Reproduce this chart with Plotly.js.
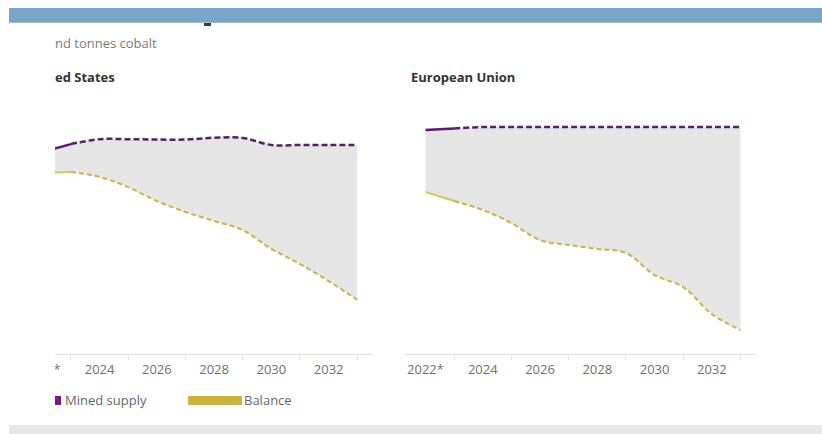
<!DOCTYPE html>
<html><head><meta charset="utf-8">
<script src="https://cdn.plot.ly/plotly-3.0.1.min.js"></script>
<style>html,body{margin:0;padding:0;background:#fff;} #chart{width:822px;height:434px;}</style>
</head><body><div id="chart"></div>
<script>
// ---- data (thousand tonnes cobalt) ----
const years = [2022, 2023, 2024, 2025, 2026, 2027, 2028, 2029, 2030, 2031, 2032, 2033];
const tickYears = [2022, 2024, 2026, 2028, 2030, 2032];
const tickLabels = ['2022*', '2024', '2026', '2028', '2030', '2032'];
const usMined   = [1.13, 1.57, 1.84, 1.84, 1.82, 1.82, 1.92, 1.91, 1.52, 1.52, 1.52, 1.52];
const usBalance = [-0.02, 0.03, -0.24, -0.80, -1.57, -2.17, -2.67, -3.17, -4.21, -5.04, -5.98, -7.02];
const euMined   = [2.35, 2.43, 2.51, 2.51, 2.51, 2.51, 2.51, 2.51, 2.51, 2.51, 2.51, 2.51];
const euBalance = [-1.07, -1.57, -2.06, -2.78, -3.72, -3.99, -4.21, -4.43, -5.65, -6.31, -7.80, -8.68];
const histCount = 2; // 2022-2023 are historical (solid), later years projected (dashed)
const seriesNames = ['Mined supply', 'Balance'];
const panelTitles = ['ed States', 'European Union'];
const unitText = 'nd tonnes cobalt';

const W = 822, H = 434;
const X = p => p / W, Y = p => (H - p) / H;

const PURPLE_H = '#5a1a72', PURPLE_P = '#4e2461';
const GOLD_H = '#d7c55e', GOLD_P = '#c8b447';

function panel(mined, balance, xa, ya) {
  const hx = years.slice(0, histCount), px = years.slice(histCount - 1);
  const base = {xaxis: xa, yaxis: ya, mode: 'lines', hoverinfo: 'skip', showlegend: false};
  return [
    Object.assign({}, base, {x: years, y: mined, line: {width: 0, shape: 'spline'}}),
    Object.assign({}, base, {x: years, y: balance, line: {width: 0, shape: 'spline'}, fill: 'tonexty', fillcolor: '#e6e6e6'}),
    Object.assign({}, base, {x: hx, y: mined.slice(0, histCount), line: {color: PURPLE_H, width: 2.5}}),
    Object.assign({}, base, {x: px, y: mined.slice(histCount - 1), line: {color: PURPLE_P, width: 2.5, dash: '6px,3px', shape: 'spline'}}),
    Object.assign({}, base, {x: hx, y: balance.slice(0, histCount), line: {color: GOLD_H, width: 2}}),
    Object.assign({}, base, {x: px, y: balance.slice(histCount - 1), line: {color: GOLD_P, width: 2, dash: '5px,3px', shape: 'spline'}})
  ];
}

const traces = [].concat(
  panel(usMined, usBalance, 'x', 'y'),
  panel(euMined, euBalance, 'x2', 'y2')
);

const xCommon = {
  range: [2021.27, 2033.55], tickmode: 'array', tickvals: tickYears, ticktext: tickLabels,
  ticks: '', showline: true, linecolor: '#e3e3e3', linewidth: 1, showgrid: false, zeroline: false,
  tickfont: {family: 'Open Sans', size: 13, color: '#707070'}, ticklabelstandoff: 3,
  minor: {ticks: 'outside', tickmode: 'linear', tick0: 2023, dtick: 2, ticklen: 5, tickcolor: '#e3e3e3', tickwidth: 1, showgrid: false},
  fixedrange: true
};
const yCommon = {range: [-10, 4], visible: false, domain: [Y(354), Y(100)], fixedrange: true};

const layout = {
  width: W, height: H, autosize: false,
  margin: {l: 0, r: 0, t: 0, b: 0, pad: 0},
  paper_bgcolor: '#ffffff', plot_bgcolor: 'rgba(0,0,0,0)',
  font: {family: 'Open Sans', color: '#555'},
  showlegend: false,
  xaxis: Object.assign({}, xCommon, {domain: [X(21.4), X(373)], anchor: 'y'}),
  yaxis: Object.assign({}, yCommon, {anchor: 'x'}),
  xaxis2: Object.assign({}, xCommon, {domain: [X(404.6), X(756.2)], anchor: 'y2'}),
  yaxis2: Object.assign({}, yCommon, {anchor: 'x2'}),
  shapes: [
    {type: 'rect', xref: 'paper', yref: 'paper', x0: X(9), x1: 1, y0: Y(22.7), y1: Y(8), fillcolor: '#79a6c9', line: {width: 0}, layer: 'above'},
    {type: 'rect', xref: 'paper', yref: 'paper', x0: X(204), x1: X(211), y0: Y(26), y1: Y(23), fillcolor: '#3a3a3a', line: {width: 0}, layer: 'above'},
    {type: 'rect', xref: 'paper', yref: 'paper', x0: X(9), x1: 1, y0: 0, y1: Y(425), fillcolor: '#e6e7e8', line: {width: 0}, layer: 'above'},
    {type: 'rect', xref: 'paper', yref: 'paper', x0: -0.05, x1: X(55), y0: Y(412), y1: Y(30), fillcolor: '#ffffff', line: {width: 0}, layer: 'above'},
    {type: 'rect', xref: 'paper', yref: 'paper', x0: X(55), x1: X(61), y0: Y(405), y1: Y(396), fillcolor: '#7a168e', line: {width: 0}, layer: 'above'},
    {type: 'rect', xref: 'paper', yref: 'paper', x0: X(188), x1: X(242), y0: Y(405), y1: Y(396), fillcolor: '#cab43f', line: {width: 0}, layer: 'above'}
  ],
  annotations: [
    {xref: 'paper', yref: 'paper', x: X(53), y: Y(43), xanchor: 'left', yanchor: 'middle', showarrow: false, text: unitText, font: {family: 'Open Sans', size: 13, color: '#7a7a7a'}},
    {xref: 'paper', yref: 'paper', x: X(53), y: Y(77), xanchor: 'left', yanchor: 'middle', showarrow: false, text: '<b>' + panelTitles[0] + '</b>', font: {family: 'Open Sans', size: 13, color: '#333'}},
    {xref: 'paper', yref: 'paper', x: X(409), y: Y(77), xanchor: 'left', yanchor: 'middle', showarrow: false, text: '<b>' + panelTitles[1] + '</b>', font: {family: 'Open Sans', size: 13, color: '#333'}},
    {xref: 'paper', yref: 'paper', x: X(63), y: Y(400), xanchor: 'left', yanchor: 'middle', showarrow: false, text: seriesNames[0], font: {family: 'Open Sans', size: 13, color: '#666'}},
    {xref: 'paper', yref: 'paper', x: X(242), y: Y(400), xanchor: 'left', yanchor: 'middle', showarrow: false, text: seriesNames[1], font: {family: 'Open Sans', size: 13, color: '#666'}}
  ]
};

Plotly.newPlot('chart', traces, layout, {displayModeBar: false, staticPlot: true});
</script>
</body></html>
